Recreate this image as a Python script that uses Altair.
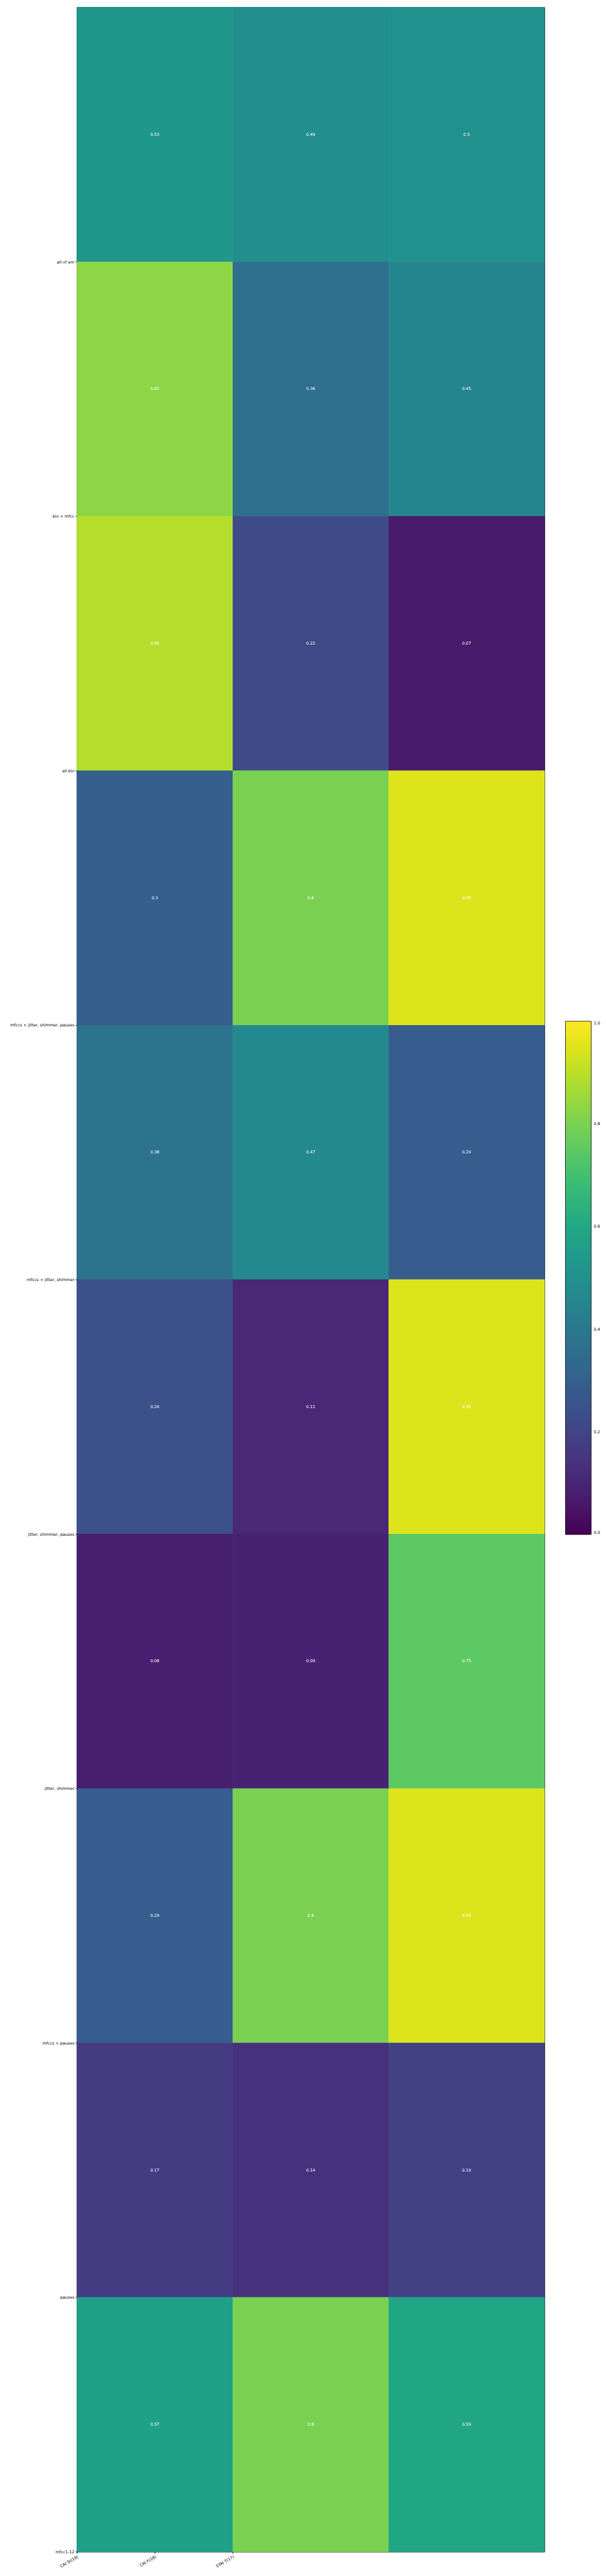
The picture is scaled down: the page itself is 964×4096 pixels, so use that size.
import altair as alt
import pandas as pd

row_labels = [
    "all of em",
    "bio + mfcc",
    "all bio",
    "mfccs + jitter, shimmer, pauses",
    "mfccs + jitter, shimmer",
    "jitter, shimmer, pauses",
    "jitter, shimmer",
    "mfccs + pauses",
    "pauses",
    "mfcc1-12",
]
col_labels = ["CAI St(19)", "CAI F(18)", "STAI T(17)"]
col1_vals = ["0.53", "0.83", "0.89", "0.3", "0.38", "0.24", "0.08", "0.29", "0.17", "0.57"]
col2_vals = ["0.49", "0.36", "0.22", "0.8", "0.47", "0.11", "0.09", "0.8", "0.14", "0.8"]
col3_vals = ["0.5", "0.45", "0.07", "0.95", "0.29", "0.95", "0.75", "0.95", "0.19", "0.59"]

cols = [col1_vals, col2_vals, col3_vals]
records = []
for ci, vals in enumerate(cols):
    for ri, v in enumerate(vals):
        records.append({"row": ri, "row2": ri + 1, "col": ci, "col2": ci + 1,
                        "xc": ci + 0.5, "yc": ri + 0.5,
                        "value": float(v), "label": v})
df = pd.DataFrame(records)

S = 0.669
W = 1113 * S
H = 6054 * S
FS = 6.4

ylab_expr = "[" + ",".join("'%s'" % s for s in row_labels) + "][datum.value - 1]"
xlab_expr = "datum.value == 0 ? '%s' : (datum.value == 0.5 ? '%s' : '%s')" % tuple(col_labels)

xscale = alt.Scale(domain=[0, 3], nice=False, zero=False)
yscale = alt.Scale(domain=[0, 10], nice=False, zero=False, reverse=True)

base = alt.Chart(df)

xaxis = alt.Axis(values=[0, 0.5, 1], labelExpr=xlab_expr, labelAngle=-30,
                 labelAlign="right", labelBaseline="top", title=None,
                 grid=False, domain=False, tickSize=2.5, tickColor="black",
                 labelFontSize=FS, labelColor="black", labelFont="DejaVu Sans",
                 labelPadding=2)
yaxis = alt.Axis(values=list(range(1, 11)), labelExpr=ylab_expr, title=None,
                 grid=False, domain=False, tickSize=2.5, tickColor="black",
                 labelFontSize=FS, labelColor="black", labelFont="DejaVu Sans",
                 labelPadding=2, labelBaseline="middle")

# seam-hiding outline layer (same colours, no legend)
edges = base.mark_rect(filled=False, strokeWidth=0.8).encode(
    x=alt.X("col:Q", scale=xscale, axis=xaxis),
    x2="col2:Q",
    y=alt.Y("row:Q", scale=yscale, axis=yaxis),
    y2="row2:Q",
    color=alt.Color("value:Q", scale=alt.Scale(scheme="viridis", domain=[0, 1]),
                    legend=None),
)

rects = base.mark_rect(strokeWidth=0).encode(
    x=alt.X("col:Q", scale=xscale),
    x2="col2:Q",
    y=alt.Y("row:Q", scale=yscale),
    y2="row2:Q",
    color=alt.Color("value:Q", scale=alt.Scale(scheme="viridis", domain=[0, 1]),
                    legend=alt.Legend(title=None, orient="none", direction="vertical",
                                      legendX=778, legendY=1614,
                                      gradientLength=817, gradientThickness=41,
                                      gradientStrokeColor="black", gradientStrokeWidth=0.8,
                                      values=[0, 0.2, 0.4, 0.6, 0.8, 1.0],
                                      format=".1f", labelFontSize=FS,
                                      labelFont="DejaVu Sans", labelColor="black",
                                      labelOffset=4)),
)

texts = base.mark_text(color="white", fontSize=FS, font="DejaVu Sans").encode(
    x=alt.X("xc:Q", scale=xscale),
    y=alt.Y("yc:Q", scale=yscale),
    text="label:N",
)

chart = alt.layer(edges, rects, texts).resolve_scale(color="independent").properties(
    width=W, height=H,
    autosize=alt.AutoSizeParams(type="none"),
    padding={"left": 114.4, "top": 1.4, "right": 90, "bottom": 40},
).configure_view(stroke="black", strokeWidth=1)

chart.save("out.html", embed_options={"renderer": "svg", "actions": False})
